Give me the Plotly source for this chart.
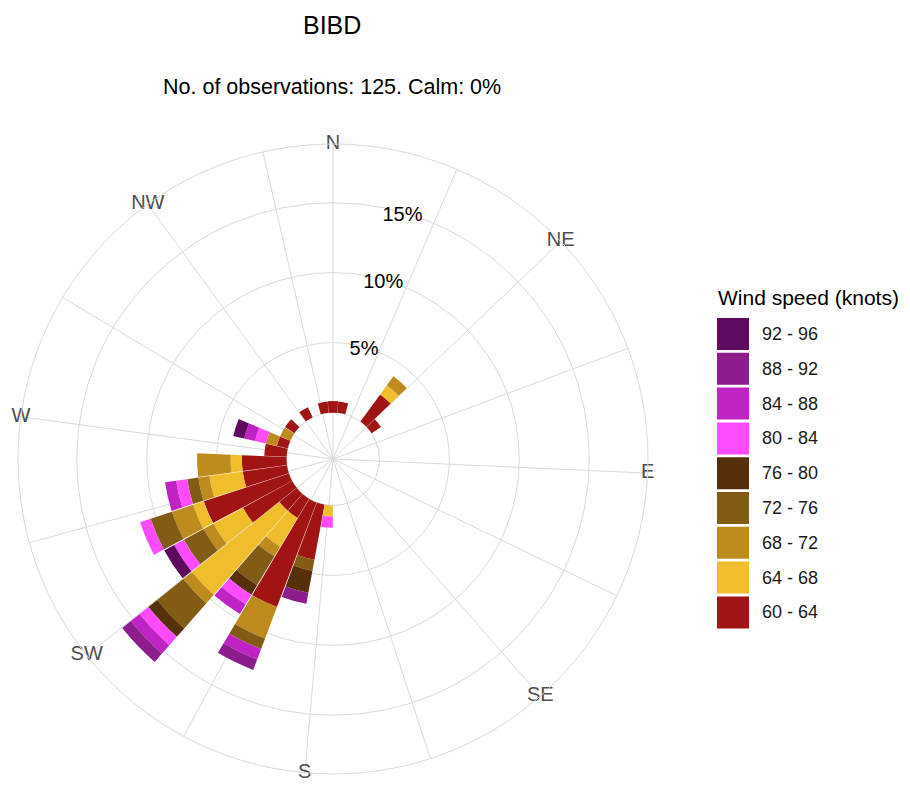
import plotly.graph_objects as go

# ---------------- data ----------------
TITLE = "BIBD"
SUBTITLE = "No. of observations: 125. Calm: 0%"
LEGEND_TITLE = "Wind speed (knots)"

# wind direction bins (degrees, bin centres)
DIRECTIONS = [0, 10, 40, 50, 180, 190, 200, 210, 220, 230,
              240, 250, 260, 270, 280, 290, 300, 320, 340, 350]

# frequency (% of observations) per speed band, same order as DIRECTIONS
PCT_60_64 = [0.8, 0.8, 2.4, 0.8, 0.0, 4.0, 8.0, 1.6, 1.6, 4.0, 6.4, 3.2, 3.2, 1.6, 0.8, 0.0, 0.8, 0.8, 0.8, 0.8]
PCT_64_68 = [0.0, 0.0, 0.8, 0.0, 0.8, 0.0, 0.0, 2.4, 8.0, 2.4, 0.8, 2.4, 0.8, 0.0, 0.0, 0.0, 0.0, 0.0, 0.0, 0.0]
PCT_68_72 = [0.0, 0.0, 0.8, 0.0, 0.0, 0.0, 2.4, 0.8, 0.8, 0.8, 1.6, 0.8, 2.4, 0.0, 0.8, 0.8, 0.0, 0.0, 0.0, 0.0]
PCT_72_76 = [0.0, 0.0, 0.0, 0.0, 0.0, 0.8, 0.8, 2.4, 2.4, 1.6, 1.6, 0.8, 0.0, 0.0, 0.0, 0.0, 0.0, 0.0, 0.0, 0.0]
PCT_76_80 = [0.0, 0.0, 0.0, 0.0, 0.0, 1.6, 0.0, 0.8, 0.8, 0.0, 0.0, 0.0, 0.0, 0.0, 0.0, 0.0, 0.0, 0.0, 0.0, 0.0]
PCT_80_84 = [0.0, 0.0, 0.0, 0.0, 0.8, 0.0, 0.0, 0.8, 0.8, 0.8, 0.8, 0.8, 0.0, 0.0, 0.8, 0.0, 0.0, 0.0, 0.0, 0.0]
PCT_84_88 = [0.0, 0.0, 0.0, 0.0, 0.0, 0.0, 0.8, 0.8, 0.8, 0.0, 0.0, 0.8, 0.0, 0.0, 0.8, 0.0, 0.0, 0.0, 0.0, 0.0]
PCT_88_92 = [0.0, 0.0, 0.0, 0.0, 0.0, 0.8, 0.8, 0.0, 0.8, 0.0, 0.0, 0.0, 0.0, 0.0, 0.0, 0.0, 0.0, 0.0, 0.0, 0.0]
PCT_92_96 = [0.0, 0.0, 0.0, 0.0, 0.0, 0.0, 0.0, 0.0, 0.0, 0.8, 0.0, 0.0, 0.0, 0.0, 0.8, 0.0, 0.0, 0.0, 0.0, 0.0]

SPEED_LABELS = ["60 - 64", "64 - 68", "68 - 72", "72 - 76", "76 - 80",
                "80 - 84", "84 - 88", "88 - 92", "92 - 96"]
SPEED_COLORS = ["#A01414", "#F0BE2D", "#BE8C1E", "#825C14", "#55300A",
                "#FF4BFF", "#C023C3", "#8B1E8C", "#5E0A5E"]
SPEED_VALUES = [PCT_60_64, PCT_64_68, PCT_68_72, PCT_72_76, PCT_76_80,
                PCT_80_84, PCT_84_88, PCT_88_92, PCT_92_96]

COMPASS_DIRS = [0, 45, 90, 135, 180, 225, 270, 315]
COMPASS_LABELS = ["N", "NE", "E", "SE", "S", "SW", "W", "NW"]
GRID_DIRS = [0, 22.5, 45, 67.5, 90, 112.5, 135, 157.5,
             180, 202.5, 225, 247.5, 270, 292.5, 315, 337.5]
RING_VALUES = [5, 10, 15]
RING_LABELS = ["5%", "10%", "15%"]
RING_LABEL_DIR = 15.5
RING_LABEL_INSET = 0.25  # labels sit just inside their ring

# ---------------- styling / geometry ----------------
W, H = 910, 785
PAGE_OFFSET = 8  # the page body margin shifts the figure by 8 px
FONT = "Liberation Sans, Arial, sans-serif"
GRID = "#D9D9D9"
# the reference maps the 0..350 bin-centre range onto the full circle
ANGLE_SCALE = 360.0 / 350.0
BIN_WIDTH = 10
R_MIN, R_MAX = -3.32, 19.2

def ang(d):
    return d * ANGLE_SCALE

fig = go.Figure()

for label, color, vals in zip(SPEED_LABELS, SPEED_COLORS, SPEED_VALUES):
    fig.add_trace(go.Barpolar(
        r=vals,
        theta=[ang(d) for d in DIRECTIONS],
        width=BIN_WIDTH * ANGLE_SCALE * 0.97,
        marker=dict(color=color, line=dict(width=0)),
        name=label,
        showlegend=False,
    ))

# compass labels sitting on the outer circle
fig.add_trace(go.Scatterpolar(
    r=[R_MAX] * len(COMPASS_DIRS),
    theta=[ang(d) for d in COMPASS_DIRS],
    mode="text", text=COMPASS_LABELS,
    textfont=dict(family=FONT, size=20, color="#4D4D4D"),
    cliponaxis=False, showlegend=False, hoverinfo="skip",
))

# percentage labels on the rings
fig.add_trace(go.Scatterpolar(
    r=[v - RING_LABEL_INSET for v in RING_VALUES],
    theta=[ang(RING_LABEL_DIR)] * len(RING_VALUES),
    mode="text", text=RING_LABELS,
    textfont=dict(family=FONT, size=20, color="#000000"),
    cliponaxis=False, showlegend=False, hoverinfo="skip",
))

# ---------------- custom legend (large swatches) ----------------
def px_x(x):
    return (x - PAGE_OFFSET) / W

def px_y(y):
    return 1 - (y - PAGE_OFFSET) / H

shapes = []
annotations = []
LEG_X, LEG_TOP, SW_SIZE, SW_STEP = 717, 318, 32, 34.8
for i, (label, color) in enumerate(zip(SPEED_LABELS[::-1], SPEED_COLORS[::-1])):
    y0 = LEG_TOP + i * SW_STEP
    shapes.append(dict(type="rect", xref="paper", yref="paper",
                       x0=px_x(LEG_X), x1=px_x(LEG_X + SW_SIZE),
                       y0=px_y(y0), y1=px_y(y0 + SW_SIZE),
                       fillcolor=color, line=dict(width=0)))
    annotations.append(dict(xref="paper", yref="paper",
                            x=px_x(LEG_X + SW_SIZE + 11), y=px_y(y0 + SW_SIZE / 2),
                            xanchor="left", yanchor="middle", showarrow=False,
                            text=label, font=dict(family=FONT, size=18, color="#1A1A1A")))
annotations.append(dict(xref="paper", yref="paper", x=px_x(LEG_X - 1), y=px_y(298),
                        xanchor="left", yanchor="middle", showarrow=False,
                        text=LEGEND_TITLE, font=dict(family=FONT, size=21, color="#000000")))
annotations.append(dict(xref="paper", yref="paper", x=px_x(332), y=px_y(25),
                        xanchor="center", yanchor="middle", showarrow=False,
                        text=TITLE, font=dict(family=FONT, size=25, color="#000000")))
annotations.append(dict(xref="paper", yref="paper", x=px_x(332), y=px_y(87),
                        xanchor="center", yanchor="middle", showarrow=False,
                        text=SUBTITLE, font=dict(family=FONT, size=21.5, color="#000000")))

cx, cy, rad = 333, 459, 315
fig.update_layout(
    width=W, height=H,
    margin=dict(l=0, r=0, t=0, b=0),
    paper_bgcolor="white",
    font=dict(family=FONT),
    showlegend=False,
    shapes=shapes,
    annotations=annotations,
    polar=dict(
        domain=dict(x=[px_x(cx - rad), px_x(cx + rad)],
                    y=[px_y(cy + rad), px_y(cy - rad)]),
        bgcolor="white",
        barmode="stack",
        radialaxis=dict(range=[R_MIN, R_MAX], tickmode="array", tickvals=[0] + RING_VALUES,
                        showticklabels=False, ticks="", showline=False,
                        gridcolor=GRID, gridwidth=1),
        angularaxis=dict(rotation=90, direction="clockwise", tickmode="array",
                         tickvals=[ang(d) for d in GRID_DIRS],
                         showticklabels=False, ticks="",
                         gridcolor=GRID, gridwidth=1,
                         showline=True, linecolor=GRID, linewidth=1),
    ),
)

fig.write_html("out.html")
